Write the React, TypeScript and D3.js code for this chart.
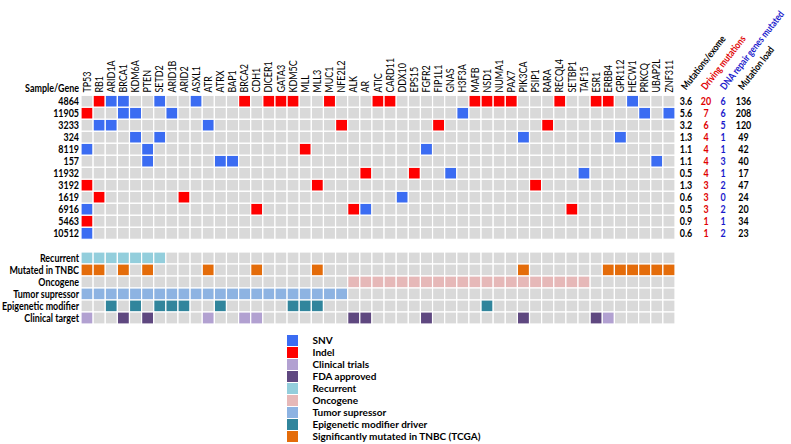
import React from "react";
import * as d3 from "d3";

const genes = ["TP53","RB1","ARID1A","BRCA1","KDM6A","PTEN","SETD2","ARID1B","ARID2","ASXL1","ATR","ATRX","BAP1","BRCA2","CDH1","DICER1","GATA3","KDM5C","MLL","MLL3","MUC1","NFE2L2","ALK","AR","ATIC","CARD11","DDX10","EPS15","FGFR2","FIP1L1","GNAS","H3F3A","MAFB","NSD1","NUMA1","PAX7","PIK3CA","PSIP1","RARA","RECQL4","SETBP1","TAF15","ESR1","ERBB4","GPR112","HECW1","PRKCQ","UBAP2L","ZNF311"];

const samples = ["4864","11905","3233","324","8119","157","11932","3192","1619","6916","5463","10512"];

// S = SNV, I = Indel
const mutations: [string, string, string][] = [
  ["4864","RB1","I"],["4864","ARID1A","S"],["4864","BRCA1","S"],["4864","SETD2","S"],["4864","ASXL1","S"],["4864","BRCA2","I"],["4864","DICER1","I"],["4864","GATA3","I"],["4864","KDM5C","I"],["4864","MUC1","I"],["4864","ATIC","I"],["4864","CARD11","I"],["4864","MAFB","I"],["4864","NSD1","I"],["4864","NUMA1","I"],["4864","PAX7","I"],["4864","RECQL4","I"],["4864","ESR1","I"],["4864","ERBB4","I"],["4864","HECW1","S"],
  ["11905","TP53","I"],["11905","BRCA1","S"],["11905","KDM6A","S"],["11905","ARID1B","S"],["11905","H3F3A","S"],["11905","PRKCQ","S"],["11905","ZNF311","S"],
  ["3233","RB1","S"],["3233","ARID1A","S"],["3233","ATR","S"],["3233","NFE2L2","I"],["3233","FIP1L1","I"],["3233","RARA","I"],
  ["324","KDM6A","S"],["324","SETD2","S"],["324","PIK3CA","S"],["324","GPR112","S"],
  ["8119","TP53","S"],["8119","PTEN","S"],["8119","MLL","I"],["8119","FGFR2","S"],
  ["157","PTEN","S"],["157","ATRX","S"],["157","BAP1","S"],["157","UBAP2L","S"],
  ["11932","AR","I"],["11932","EPS15","I"],["11932","GNAS","S"],["11932","TAF15","S"],
  ["3192","TP53","I"],["3192","MLL3","I"],["3192","PSIP1","I"],
  ["1619","RB1","I"],["1619","ARID2","I"],["1619","DDX10","S"],
  ["6916","TP53","S"],["6916","CDH1","I"],["6916","ALK","I"],["6916","AR","S"],["6916","SETBP1","I"],
  ["5463","TP53","I"],
  ["10512","TP53","S"],
];

const mutationsPerExome = ["3.6","5.6","3.2","1.3","1.1","1.1","0.5","1.3","0.6","0.5","0.9","0.6"];
const drivingMutations = [20,7,6,4,4,4,4,3,3,3,1,1];
const dnaRepairMutated = [6,6,5,1,1,3,1,2,0,2,1,2];
const mutationLoad = [136,208,120,49,42,40,17,47,24,20,34,23];

const annotationRows = ["Recurrent","Mutated in TNBC","Oncogene","Tumor supressor","Epigenetic modifier","Clinical target"];
const recurrentGenes = ["TP53","RB1","ARID1A","BRCA1","KDM6A","PTEN","SETD2"];
const tnbcGenes = ["TP53","RB1","BRCA1","PTEN","ATR","CDH1","MLL3","PIK3CA","ERBB4","GPR112","HECW1","PRKCQ","UBAP2L","ZNF311"];
const oncogeneGenes = ["ALK","AR","ATIC","CARD11","DDX10","EPS15","FGFR2","FIP1L1","GNAS","H3F3A","MAFB","NSD1","NUMA1","PAX7","PIK3CA","PSIP1","RARA","RECQL4","SETBP1","TAF15"];
const suppressorGenes = ["TP53","RB1","ARID1A","BRCA1","KDM6A","PTEN","SETD2","ARID1B","ARID2","ASXL1","ATR","ATRX","BAP1","BRCA2","CDH1","DICER1","GATA3","KDM5C","MLL","MLL3","MUC1","NFE2L2"];
const epigeneticGenes = ["ARID1A","KDM6A","SETD2","ARID1B","ARID2","ATRX","KDM5C","MLL","MLL3","NSD1"];
const clinicalTrialGenes = ["TP53","ATR","BRCA2","CDH1","ERBB4"];
const fdaApprovedGenes = ["BRCA1","PTEN","ALK","AR","FGFR2","PIK3CA","ESR1"];

const legendLabels = ["SNV","Indel","Clinical trials","FDA approved","Recurrent","Oncogene","Tumor supressor","Epigenetic modifier driver","Significantly mutated in TNBC (TCGA)"];
const legendColors = ["#3b6cf2","#ff0000","#b2a1d1","#5f4880","#93cedc","#e6b8b8","#8db3e2","#31859c","#e46c0a"];

const headerLabels = ["Mutations/exome","Driving mutations","DNA repair genes mutated","Mutation load"];
const headerColors = ["#000000","#e00000","#1a1acc","#000000"];

const C = {
  snv: legendColors[0], indel: legendColors[1], trial: legendColors[2], fda: legendColors[3],
  recurrent: legendColors[4], onco: legendColors[5], supp: legendColors[6], epi: legendColors[7], tnbc: legendColors[8],
  bg: "#d9d9d9",
};

const FONT = "Lato, 'Open Sans', sans-serif";
const SX = 0.85;

function T(props: { x: number; y: number; rot?: number; anchor?: string; size?: number; bold?: boolean; fill?: string; sx?: number; children: React.ReactNode }) {
  const { x, y, rot = 0, anchor = "start", size = 10.5, bold = false, fill = "#000", sx = SX, children } = props;
  return (
    <text transform={`translate(${x},${y}) rotate(${rot}) scale(${sx},1)`} textAnchor={anchor as any} fontSize={size} fontWeight={bold ? "bold" : "normal"} fill={fill}>
      {children}
    </text>
  );
}

export default function App() {
  const W = 791, H = 444;
  const x = d3.scaleBand<string>().domain(genes).range([81, 675]);
  const y = d3.scaleBand<string>().domain(samples).range([95.3, 239.3]);
  const ya = d3.scaleBand<string>().domain(annotationRows).range([252, 324]);
  const numX = d3.scaleOrdinal<string, number>().domain(headerLabels).range([686, 706, 723, 743.5]);
  const headX = d3.scaleOrdinal<string, number>().domain(headerLabels).range([686, 706, 725, 743]);
  const ly = d3.scaleBand<string>().domain(legendLabels).range([335, 443]);

  const mutMap = new Map<string, string>();
  mutations.forEach(([s, g, t]) => mutMap.set(s + "|" + g, t));

  const annoColor = (row: string, g: string): string => {
    switch (row) {
      case "Recurrent": return recurrentGenes.includes(g) ? C.recurrent : C.bg;
      case "Mutated in TNBC": return tnbcGenes.includes(g) ? C.tnbc : C.bg;
      case "Oncogene": return oncogeneGenes.includes(g) ? C.onco : C.bg;
      case "Tumor supressor": return suppressorGenes.includes(g) ? C.supp : C.bg;
      case "Epigenetic modifier": return epigeneticGenes.includes(g) ? C.epi : C.bg;
      case "Clinical target":
        if (fdaApprovedGenes.includes(g)) return C.fda;
        if (clinicalTrialGenes.includes(g)) return C.trial;
        return C.bg;
    }
    return C.bg;
  };

  const bw = x.bandwidth();
  const bh = y.bandwidth();
  const tableCols = [mutationsPerExome.map(String), drivingMutations.map(String), dnaRepairMutated.map(String), mutationLoad.map(String)];

  return (
    <svg width={W} height={H} style={{ position: "absolute", left: 0, top: 0, background: "#fff" }} fontFamily={FONT}>
      {/* gene labels */}
      {genes.map((g) => (
        <T key={g} x={x(g)! + bw / 2 + 3.6} y={92.5} rot={-90} size={10.5}>{g}</T>
      ))}
      <T x={79} y={92} anchor="end" bold>Sample/Gene</T>

      {/* header labels */}
      {headerLabels.map((h, i) => (
        <T key={h} x={headX(h)} y={90.5} rot={-52} size={10} sx={0.82} bold fill={headerColors[i]}>{h}</T>
      ))}

      {/* matrix */}
      {samples.map((s) => (
        <g key={s}>
          <T x={79} y={y(s)! + bh / 2 + 3.7} anchor="end" bold>{s}</T>
          {genes.map((g) => {
            const t = mutMap.get(s + "|" + g);
            const fill = t === "S" ? C.snv : t === "I" ? C.indel : C.bg;
            return <rect key={g} x={x(g)!} y={y(s)!} width={bw} height={bh} fill={fill} stroke="#fff" strokeWidth={1.2} />;
          })}
        </g>
      ))}

      {/* right table */}
      {samples.map((s, i) => (
        <g key={"t" + s}>
          {tableCols.map((col, j) => (
            <T key={j} x={numX(headerLabels[j])} y={y(s)! + bh / 2 + 3.7} anchor="middle" bold fill={headerColors[j]}>{col[i]}</T>
          ))}
        </g>
      ))}

      {/* annotations */}
      {annotationRows.map((r) => (
        <g key={r}>
          <T x={79} y={ya(r)! + ya.bandwidth() / 2 + 3.7} anchor="end" bold>{r}</T>
          {genes.map((g) => (
            <rect key={g} x={x(g)!} y={ya(r)!} width={bw} height={ya.bandwidth()} fill={annoColor(r, g)} stroke="#fff" strokeWidth={1.2} />
          ))}
        </g>
      ))}

      {/* legend */}
      {legendLabels.map((l, i) => (
        <g key={l}>
          <rect x={287} y={ly(l)!} width={11} height={ly.bandwidth() - 1} fill={legendColors[i]} />
          <T x={312.5} y={ly(l)! + ly.bandwidth() / 2 + 3.3} size={10} sx={1} bold>{l}</T>
        </g>
      ))}
    </svg>
  );
}
